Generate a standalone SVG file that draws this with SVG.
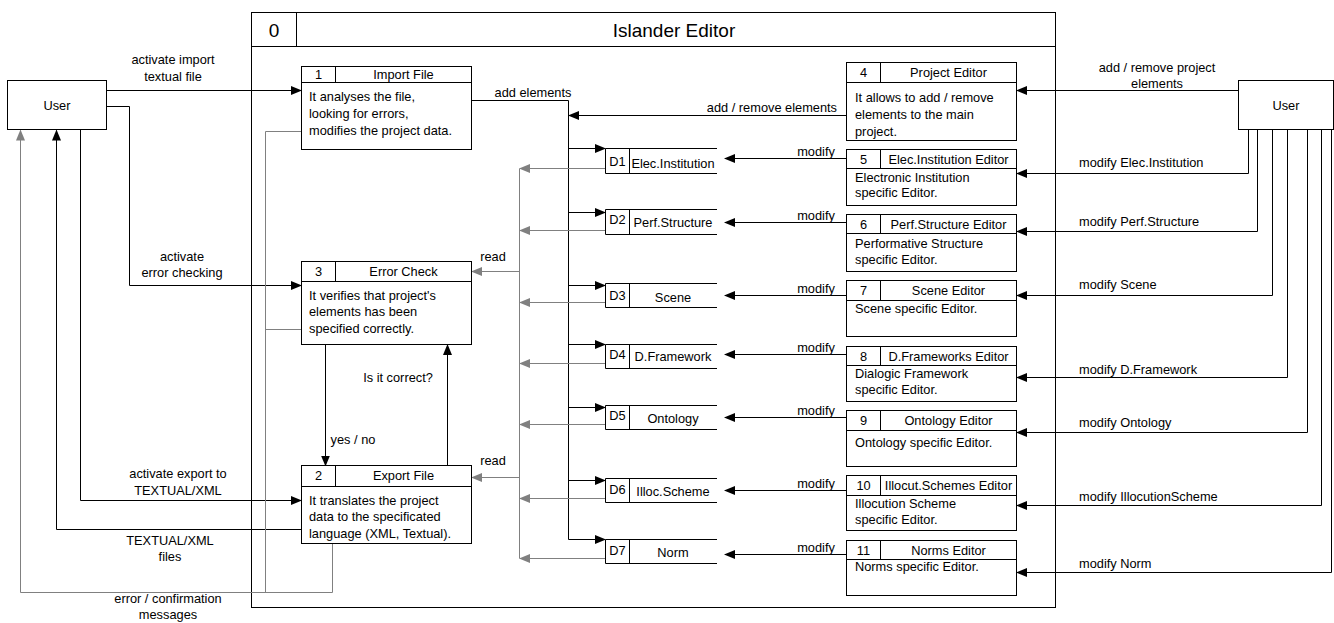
<svg xmlns="http://www.w3.org/2000/svg" width="1334" height="623" viewBox="0 0 1334 623">
<style>
text{font-family:"Liberation Sans",Arial,sans-serif;font-size:12.8px;fill:#000}
.c{text-anchor:middle}
.e{text-anchor:end}
.big{font-size:19px}
.box{fill:#fff;stroke:#000;stroke-width:1}
.ln{fill:none;stroke:#000;stroke-width:1}
.k{fill:none;stroke:#000;stroke-width:1;marker-end:url(#ak)}
.g{fill:none;stroke:#808080;stroke-width:1;marker-end:url(#ag)}
.gl{fill:none;stroke:#808080;stroke-width:1}
</style>
<defs>
<marker id="ak" markerUnits="userSpaceOnUse" markerWidth="11" markerHeight="9" refX="10" refY="4.5" orient="auto"><path d="M0,0 L11,4.5 L0,9 z" fill="#000"/></marker>
<marker id="ag" markerUnits="userSpaceOnUse" markerWidth="11" markerHeight="9" refX="10" refY="4.5" orient="auto"><path d="M0,0 L11,4.5 L0,9 z" fill="#808080"/></marker>
</defs>
<rect width="1334" height="623" fill="#fff"/>

<g id="frame">
<rect class="box" x="251.5" y="12.5" width="804" height="595"/>
<line class="ln" x1="251.5" y1="46.5" x2="1055.5" y2="46.5"/>
<line class="ln" x1="296.5" y1="12.5" x2="296.5" y2="46.5"/>
<text class="c big" x="274" y="36.5">0</text>
<text class="c big" x="674" y="36.5">Islander Editor</text>
</g>

<g id="connectors">
<path class="k" d="M106.5,90.5 H301"/>
<path class="k" d="M106.5,106.5 H129.5 V285.5 H301"/>
<path class="k" d="M80.5,129.5 V500.5 H301"/>
<path class="k" d="M301.5,529.5 H56.5 V130.5"/>
<path class="g" d="M332.5,543.5 V592.5 H20.5 V130.5"/>
<path class="gl" d="M301.5,131.5 H265.5 V592.5"/>
<path class="gl" d="M301.5,329.5 H265.5"/>
<path class="k" d="M325.5,344.5 V465.5"/>
<path class="k" d="M447.5,465.5 V345"/>
<path class="ln" d="M471.5,100.5 H568.5 V539.5"/>
<path class="k" d="M846.5,115.5 H569"/>
<path class="k" d="M568.5,148.5 H605"/>
<path class="k" d="M568.5,212.5 H605"/>
<path class="k" d="M568.5,285.5 H605"/>
<path class="k" d="M568.5,344.5 H605"/>
<path class="k" d="M568.5,407.5 H605"/>
<path class="k" d="M568.5,480.5 H605"/>
<path class="k" d="M568.5,539.5 H605"/>
<path class="gl" d="M519.5,168.5 V558.5"/>
<path class="g" d="M605.5,168.5 H520"/>
<path class="g" d="M605.5,230.5 H520"/>
<path class="g" d="M605.5,302.5 H520"/>
<path class="g" d="M605.5,363.5 H520"/>
<path class="g" d="M605.5,424.5 H520"/>
<path class="g" d="M605.5,498.5 H520"/>
<path class="g" d="M605.5,558.5 H520"/>
<path class="g" d="M519.5,271.5 H472"/>
<path class="g" d="M519.5,477.5 H472"/>
<path class="k" d="M846.5,158.5 H725"/>
<path class="k" d="M846.5,222.5 H725"/>
<path class="k" d="M846.5,295.5 H725"/>
<path class="k" d="M846.5,354.5 H725"/>
<path class="k" d="M846.5,417.5 H725"/>
<path class="k" d="M846.5,490.5 H725"/>
<path class="k" d="M846.5,554.5 H725"/>
<path class="k" d="M1238.5,90.5 H1017"/>
<path class="k" d="M1248.5,129.5 V173.5 H1017"/>
<path class="k" d="M1257.5,129.5 V231.5 H1017"/>
<path class="k" d="M1272.5,129.5 V295.5 H1017"/>
<path class="k" d="M1287.5,129.5 V377.5 H1017"/>
<path class="k" d="M1307.5,129.5 V432.5 H1017"/>
<path class="k" d="M1321.5,129.5 V505.5 H1017"/>
<path class="k" d="M1331.5,129.5 V572.5 H1017"/>
<text class="c" x="173" y="64">activate import</text>
<text class="c" x="173" y="81">textual file</text>
<text class="c" x="182" y="261">activate</text>
<text class="c" x="182" y="277">error checking</text>
<text class="c" x="178" y="478">activate export to</text>
<text class="c" x="178" y="495">TEXTUAL/XML</text>
<text class="c" x="170" y="545">TEXTUAL/XML</text>
<text class="c" x="170" y="561">files</text>
<text class="c" x="168" y="603">error / confirmation</text>
<text class="c" x="168" y="619">messages</text>
<text class="c" x="353" y="444">yes / no</text>
<text class="c" x="398" y="382">Is it correct?</text>
<text class="c" x="493" y="261">read</text>
<text class="c" x="493" y="465">read</text>
<text class="c" x="533" y="97">add elements</text>
<text class="e" x="837" y="112">add / remove elements</text>
<text class="c" x="816" y="156">modify</text>
<text class="c" x="816" y="220">modify</text>
<text class="c" x="816" y="293">modify</text>
<text class="c" x="816" y="352">modify</text>
<text class="c" x="816" y="415">modify</text>
<text class="c" x="816" y="488">modify</text>
<text class="c" x="816" y="552">modify</text>
<text class="c" x="1157" y="72">add / remove project</text>
<text class="c" x="1157" y="88">elements</text>
<text x="1079" y="167">modify Elec.Institution</text>
<text x="1079" y="226">modify Perf.Structure</text>
<text x="1079" y="289">modify Scene</text>
<text x="1079" y="374">modify D.Framework</text>
<text x="1079" y="427">modify Ontology</text>
<text x="1079" y="501">modify IllocutionScheme</text>
<text x="1079" y="568">modify Norm</text>
</g>

<g id="user-left">
<rect class="box" x="7.5" y="80.5" width="99" height="49"/>
<text class="c" x="57" y="109.5">User</text>
</g>
<g id="user-right">
<rect class="box" x="1238.5" y="80.5" width="95" height="49"/>
<text class="c" x="1286" y="109.5">User</text>
</g>

<g id="p1">
<rect class="box" x="301.5" y="66.5" width="170" height="83"/>
<line class="ln" x1="301.5" y1="82.5" x2="471.5" y2="82.5"/>
<line class="ln" x1="335.5" y1="66.5" x2="335.5" y2="82.5"/>
<text class="c" x="318.5" y="79">1</text>
<text class="c" x="403.5" y="79">Import File</text>
<text x="309" y="101">It analyses the file,</text>
<text x="309" y="118">looking for errors,</text>
<text x="309" y="135">modifies the project data.</text>
</g>
<g id="p3">
<rect class="box" x="301.5" y="261.5" width="170" height="83"/>
<line class="ln" x1="301.5" y1="281.5" x2="471.5" y2="281.5"/>
<line class="ln" x1="335.5" y1="261.5" x2="335.5" y2="281.5"/>
<text class="c" x="318.5" y="276">3</text>
<text class="c" x="403.5" y="276">Error Check</text>
<text x="309" y="300">It verifies that project's</text>
<text x="309" y="316">elements has been</text>
<text x="309" y="333">specified correctly.</text>
</g>
<g id="p2">
<rect class="box" x="301.5" y="465.5" width="170" height="78"/>
<line class="ln" x1="301.5" y1="486.5" x2="471.5" y2="486.5"/>
<line class="ln" x1="335.5" y1="465.5" x2="335.5" y2="486.5"/>
<text class="c" x="318.5" y="480">2</text>
<text class="c" x="403.5" y="480">Export File</text>
<text x="309" y="505">It translates the project</text>
<text x="309" y="521">data to the specificated</text>
<text x="309" y="538">language (XML, Textual).</text>
</g>

<g id="p4">
<rect class="box" x="846.5" y="62.5" width="170" height="78"/>
<line class="ln" x1="846.5" y1="82.5" x2="1016.5" y2="82.5"/>
<line class="ln" x1="880.5" y1="62.5" x2="880.5" y2="82.5"/>
<text class="c" x="863.5" y="77">4</text>
<text class="c" x="948.5" y="77">Project Editor</text>
<text x="855" y="102">It allows to add / remove</text>
<text x="855" y="119">elements to the main</text>
<text x="855" y="136">project.</text>
</g>
<g id="p5">
<rect class="box" x="846.5" y="149.5" width="170" height="56"/>
<line class="ln" x1="846.5" y1="168.5" x2="1016.5" y2="168.5"/>
<line class="ln" x1="880.5" y1="149.5" x2="880.5" y2="168.5"/>
<text class="c" x="863.5" y="163.5">5</text>
<text class="c" x="948.5" y="163.5">Elec.Institution Editor</text>
<text x="855" y="182">Electronic Institution</text>
<text x="855" y="197">specific Editor.</text>
</g>
<g id="p6">
<rect class="box" x="846.5" y="214.5" width="170" height="57"/>
<line class="ln" x1="846.5" y1="233.5" x2="1016.5" y2="233.5"/>
<line class="ln" x1="880.5" y1="214.5" x2="880.5" y2="233.5"/>
<text class="c" x="863.5" y="228.5">6</text>
<text class="c" x="948.5" y="228.5">Perf.Structure Editor</text>
<text x="855" y="248">Performative Structure</text>
<text x="855" y="264">specific Editor.</text>
</g>
<g id="p7">
<rect class="box" x="846.5" y="280.5" width="170" height="56"/>
<line class="ln" x1="846.5" y1="300.5" x2="1016.5" y2="300.5"/>
<line class="ln" x1="880.5" y1="280.5" x2="880.5" y2="300.5"/>
<text class="c" x="863.5" y="295">7</text>
<text class="c" x="948.5" y="295">Scene Editor</text>
<text x="855" y="313">Scene specific Editor.</text>
</g>
<g id="p8">
<rect class="box" x="846.5" y="346.5" width="170" height="55"/>
<line class="ln" x1="846.5" y1="365.5" x2="1016.5" y2="365.5"/>
<line class="ln" x1="880.5" y1="346.5" x2="880.5" y2="365.5"/>
<text class="c" x="863.5" y="360.5">8</text>
<text class="c" x="948.5" y="360.5">D.Frameworks Editor</text>
<text x="855" y="378">Dialogic Framework</text>
<text x="855" y="394">specific Editor.</text>
</g>
<g id="p9">
<rect class="box" x="846.5" y="410.5" width="170" height="56"/>
<line class="ln" x1="846.5" y1="430.5" x2="1016.5" y2="430.5"/>
<line class="ln" x1="880.5" y1="410.5" x2="880.5" y2="430.5"/>
<text class="c" x="863.5" y="425">9</text>
<text class="c" x="948.5" y="425">Ontology Editor</text>
<text x="855" y="447">Ontology specific Editor.</text>
</g>
<g id="p10">
<rect class="box" x="846.5" y="475.5" width="170" height="55"/>
<line class="ln" x1="846.5" y1="495.5" x2="1016.5" y2="495.5"/>
<line class="ln" x1="880.5" y1="475.5" x2="880.5" y2="495.5"/>
<text class="c" x="863.5" y="490">10</text>
<text class="c" x="948.5" y="490">Illocut.Schemes Editor</text>
<text x="855" y="508">Illocution Scheme</text>
<text x="855" y="524">specific Editor.</text>
</g>
<g id="p11">
<rect class="box" x="846.5" y="540.5" width="170" height="55"/>
<line class="ln" x1="846.5" y1="559.5" x2="1016.5" y2="559.5"/>
<line class="ln" x1="880.5" y1="540.5" x2="880.5" y2="559.5"/>
<text class="c" x="863.5" y="554.5">11</text>
<text class="c" x="948.5" y="554.5">Norms Editor</text>
<text x="855" y="571">Norms specific Editor.</text>
</g>

<g id="d1">
<path class="ln" d="M717,148.5 H605.5 V173.5 H717 M629.5,148.5 V173.5"/>
<text class="c" x="617.5" y="166">D1</text>
<text class="c" x="673" y="168">Elec.Institution</text>
</g>
<g id="d2">
<path class="ln" d="M717,209.5 H605.5 V234.5 H717 M629.5,209.5 V234.5"/>
<text class="c" x="617.5" y="224">D2</text>
<text class="c" x="673" y="227">Perf.Structure</text>
</g>
<g id="d3">
<path class="ln" d="M717,283.5 H605.5 V307.5 H717 M629.5,283.5 V307.5"/>
<text class="c" x="617.5" y="300">D3</text>
<text class="c" x="673" y="302">Scene</text>
</g>
<g id="d4">
<path class="ln" d="M717,344.5 H605.5 V368.5 H717 M629.5,344.5 V368.5"/>
<text class="c" x="617.5" y="359">D4</text>
<text class="c" x="673" y="361">D.Framework</text>
</g>
<g id="d5">
<path class="ln" d="M717,405.5 H605.5 V429.5 H717 M629.5,405.5 V429.5"/>
<text class="c" x="617.5" y="420">D5</text>
<text class="c" x="673" y="423">Ontology</text>
</g>
<g id="d6">
<path class="ln" d="M717,478.5 H605.5 V502.5 H717 M629.5,478.5 V502.5"/>
<text class="c" x="617.5" y="494">D6</text>
<text class="c" x="673" y="496">Illoc.Scheme</text>
</g>
<g id="d7">
<path class="ln" d="M717,539.5 H605.5 V563.5 H717 M629.5,539.5 V563.5"/>
<text class="c" x="617.5" y="555">D7</text>
<text class="c" x="673" y="557">Norm</text>
</g>
</svg>
